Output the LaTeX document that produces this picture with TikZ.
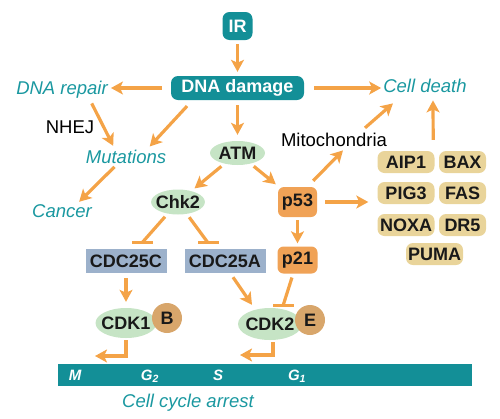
\documentclass[tikz,border=0pt]{standalone}
\usepackage{fontspec}
\setmainfont{Liberation Sans}
\usepackage{xcolor}
\usetikzlibrary{arrows.meta, shapes.geometric}

\definecolor{irteal}{HTML}{138F97}
\definecolor{txteal}{HTML}{1A98A0}
\definecolor{arrorange}{HTML}{F4A347}
\definecolor{atmgreen}{HTML}{C6E4C5}
\definecolor{cdcblue}{HTML}{9CB1CB}
\definecolor{p53orange}{HTML}{F0A256}
\definecolor{genetan}{HTML}{E9D49A}
\definecolor{cycbrown}{HTML}{D8A66B}

\begin{document}
\begin{tikzpicture}[x=1pt, y=-1pt, >={Stealth[length=12pt, width=13pt, inset=3pt]},
  bf/.style={font=\fontsize{18}{20}\selectfont\bfseries, text=black!90},
  tealbox/.style={bf, fill=irteal, text=white, rounded corners=7pt, inner sep=0pt},
  oval/.style={bf, ellipse, fill=atmgreen, inner xsep=-3pt, inner ysep=0pt},
  cdcbox/.style={bf, fill=cdcblue, inner sep=0pt, minimum width=81pt, minimum height=24pt},
  pbox/.style={bf, fill=p53orange, rounded corners=6pt, inner sep=0pt},
  gene/.style={bf, fill=genetan, rounded corners=7pt, inner sep=0pt, minimum height=22pt},
  cyc/.style={bf, circle, fill=cycbrown, inner sep=0pt, minimum size=30pt},
  outcome/.style={font=\fontsize{18.5}{22}\selectfont\itshape, text=txteal, inner sep=0pt, anchor=base},
  note/.style={font=\fontsize{18.5}{22}\selectfont, inner sep=0pt, anchor=base},
  phase/.style={font=\fontsize{15}{17}\selectfont\bfseries\itshape, text=white, inner sep=0pt, anchor=base},
  arr/.style={->, draw=arrorange, line width=3.2pt, shorten <=4pt, shorten >=4pt},
  exact/.style={shorten <=0pt, shorten >=0pt},
  inh/.style={draw=arrorange, line width=3.2pt, shorten <=4pt},
  tbar/.style={fill=arrorange, inner sep=0pt, minimum width=21pt, minimum height=3.2pt}]
  \useasboundingbox (0,0) rectangle (500,418);

  % 辐射与损伤
  \node[tealbox, minimum width=30pt, minimum height=28pt] (ir) at (237.5,26) {IR};
  \node[tealbox, minimum width=133pt, minimum height=24pt] (dnadmg) at (237.5,88) {DNA damage};

  % 结果
  \node[outcome] (repair) at (62,94) {DNA repair};
  \node[outcome] (death) at (425,92) {Cell death};
  \node[outcome] (mut) at (126,163) {Mutations};
  \node[outcome] (cancer) at (62,217) {Cancer};
  \node[note] (nhej) at (70,133) {NHEJ};
  \node[note] (mito) at (334,146) {Mitochondria};

  % 激酶与调控
  \node[oval, minimum width=55pt, minimum height=24pt] (atm) at (237.5,153) {ATM};
  \node[oval, minimum width=53pt, minimum height=25pt] (chk2) at (178,202) {Chk2};
  \node[pbox, minimum width=39pt, minimum height=30pt] (p53) at (297.5,202) {p53};
  \node[pbox, minimum width=40pt, minimum height=27pt] (p21) at (297.5,260) {p21};
  \node[cdcbox] (cdc25c) at (126,261) {CDC25C};
  \node[cdcbox] (cdc25a) at (225,261) {CDC25A};
  \node[oval, minimum width=61pt, minimum height=30pt] (cdk1) at (126,323) {CDK1};
  \node[cyc] (cycb) at (167,318) {B};
  \node[oval, minimum width=64pt, minimum height=32pt] (cdk2) at (270,324) {CDK2};
  \node[cyc] (cyce) at (310,320) {E};

  % 凋亡基因
  \node[gene, minimum width=57pt] (aip1) at (406,162) {AIP1};
  \node[gene, minimum width=47pt] (bax) at (462.5,162) {BAX};
  \node[gene, minimum width=57pt] (pig3) at (406,193) {PIG3};
  \node[gene, minimum width=47pt] (fas) at (462.5,193) {FAS};
  \node[gene, minimum width=57pt] (noxa) at (406,225) {NOXA};
  \node[gene, minimum width=47pt] (dr5) at (462.5,225) {DR5};
  \node[gene, minimum width=57pt] (puma) at (434.5,254) {PUMA};

  % 细胞周期
  \node[fill=irteal, minimum width=414pt, minimum height=22pt, inner sep=0pt] (cycle) at (265,375) {};
  \node[phase] (phm) at (75,380) {M};
  \node[phase] (phg2) at (150,380) {G\textsubscript{2}};
  \node[phase] (phs) at (218,380) {S};
  \node[phase] (phg1) at (297,380) {G\textsubscript{1}};
  \node[outcome] (arrest) at (188,407) {Cell cycle arrest};
  \coordinate (mend) at (95,356);
  \coordinate (send) at (240,355);

  % 箭头
  \draw[arr] (ir) -- (dnadmg);
  \draw[arr, shorten <=9pt, shorten >=3pt] (dnadmg.west) -- (dnadmg.west -| repair.east);
  \draw[arr, shorten <=10pt, shorten >=2pt] (dnadmg.east) -- (dnadmg.east -| death.west);
  \draw[arr, shorten <=5pt, shorten >=6pt] (dnadmg) -- (atm);
  \draw[arr, shorten <=6pt] ([xshift=27pt]repair.south) -- ([xshift=-11pt]mut.north);
  \draw[arr, shorten <=8pt] ([xshift=-45pt]dnadmg.south) -- ([xshift=21pt]mut.north);
  \draw[arr, shorten <=5pt, shorten >=3pt] ([xshift=-8pt]mut.south) -- ([xshift=15pt]cancer.north);
  \draw[arr] (atm) -- (chk2);
  \draw[arr] (atm) -- (p53);
  \draw[arr, shorten <=3pt, shorten >=3pt] (p53) -- (p21);
  \draw[arr, exact] ([shift={(-4,-6)}]p53.north east) -- ([shift={(9,4)}]mito.south);
  \draw[arr, exact] ([shift={(31,-4.5)}]mito.north) -- ([shift={(-32,11)}]death.south);
  \draw[arr, shorten <=8pt, shorten >=9pt] (p53.east) -- (p53.east -| pig3.west);
  \draw[arr, exact] ([shift={(-1.5,-11)}]aip1.north east) -- ([shift={(8,8)}]death.south);
  \draw[arr, shorten <=5pt, shorten >=6pt] (cdc25c) -- (cdk1);
  \draw[arr, exact] ([shift={(8,4)}]cdc25a.south) -- ([shift={(-18,-3)}]cdk2.north);
  \draw[arr, exact] ([yshift=-2pt]cdk1.south) |- (mend);
  \draw[arr, exact] ([shift={(3,2)}]cdk2.south) |- (send);

  % 抑制
  \draw[inh] (chk2) -- ([shift={(16,-6)}]cdc25c.north) node[tbar] {};
  \draw[inh] (chk2) -- ([shift={(-17,-6)}]cdc25a.north) node[tbar] {};
  \draw[inh] (p21) -- ([shift={(13,-2)}]cdk2.north) node[tbar] {};
\end{tikzpicture}
\end{document}
